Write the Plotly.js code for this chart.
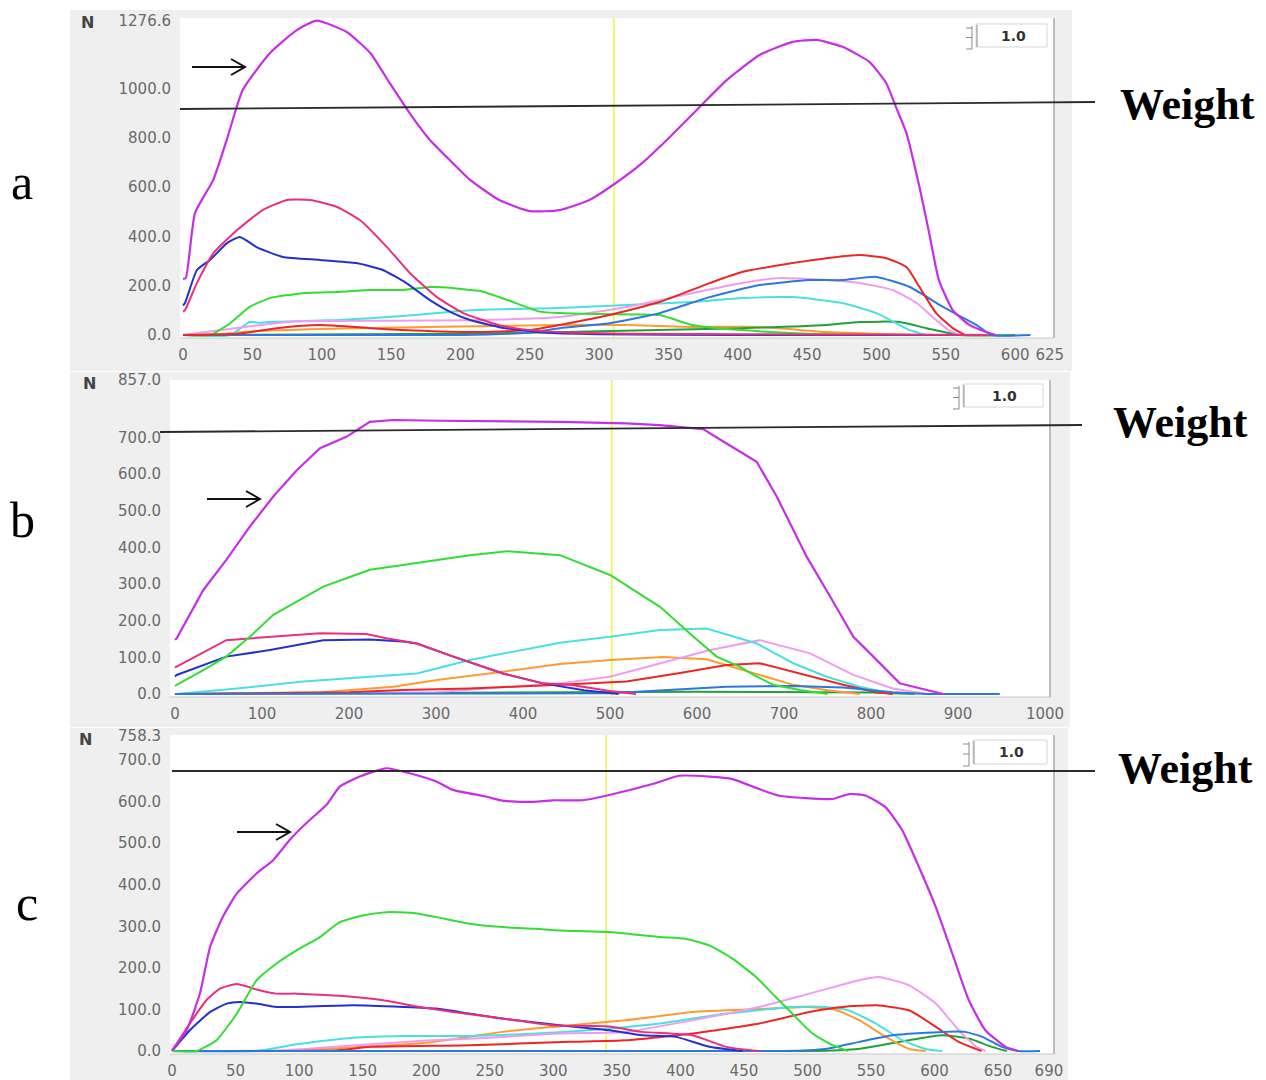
<!DOCTYPE html>
<html>
<head>
<meta charset="utf-8">
<script src="https://cdn.plot.ly/plotly-3.0.1.min.js"></script>
<style>html,body{margin:0;padding:0;background:#fff;} #chart{width:1266px;height:1080px;}</style>
</head>
<body>
<div id="chart"></div>
<script>
// ---------- Panel a ----------
const aMagentaX = [0,2,8.6,21.8,31.5,43,62.7,82,96.5,118,135,149,163.5,178,194.5,207,228,250,271.6,293,310,331,351,372.5,392,415.7,439.5,456.8,475.5,494.9,507,514,521.6,531,538,545,555,567,579,586];
const aMagentaY = [228,231,495,630,792,995,1145,1238,1276,1230,1145,1023,900,792,698,630,548,503,507,548,609,698,804,926,1035,1137,1190,1198,1170,1109,1023,926,820,601,414,223,101,41,12,0];
const aCrimsonX = [0,1.4,10,22,39,57.6,75,91.5,111,127.5,147,163.5,183,202,228,250,280,320,400,500,580];
const aCrimsonY = [95,101,211,333,426,508,548,548,520,467,357,252,154,89,40,20,10,5,3,2,0];
const aBlueX = [0,1.4,10,19.5,31.7,41,53,72,98.7,125,144,161,178,194.5,207,230,260,300,400,500,560];
const aBlueY = [120,130,264,305,373,398,357,317,305,292,264,211,142,89,61,30,10,3,0,0,0];
const aGreenX = [0,19.5,34,48,62.7,86.5,111,135,158.5,178,194.5,207,214,235,257,271.6,300,343.6,367,403,450,500];
const aGreenY = [0,0,48,114,150,170,175,183,183,195,191,183,180,140,95,89,85,81,41,20,5,0];
const aDarkGreenX = [0,200,300,403,464,487.7,516.6,536,560,600];
const aDarkGreenY = [0,5,15,28,41,53,53,28,0,0];
const aCyanX = [0,34,48,55,62.7,111,158.5,207,271.6,320,367,403,439.5,475.5,500,524,536];
const aCyanY = [0,0,53,50,53,61,77,101,110,122,134,150,154,130,89,20,0];
const aRedX = [0,40,67.7,98.7,135,158.5,207,250,271.6,307.6,343.6,379.7,403,439.5,464,487.7,507,521.6,531,543,555,564];
const aRedY = [0,5,28,41,28,20,12,20,41,81,134,211,256,292,312,325,312,276,195,89,28,0];
const aVioletX = [0,40,80,150,207,271.6,320,367,403,428,464,487.7,511.5,529,543,552,560];
const aVioletY = [0,30,55,58,60,73,114,170,211,231,223,211,183,130,61,20,0];
const aMidBlueX = [0,200,250,271.6,307.6,343.6,379.7,415.7,451.7,475.5,500,524,548,572,583,611];
const aMidBlueY = [0,0,10,28,48,89,154,203,223,223,236,195,114,41,0,0];
const aOrangeX = [0,30,50,100,150,200,271.6,320,367,415.7,464,500,530];
const aOrangeY = [0,5,15,25,30,35,41,41,33,33,12,5,0];

// ---------- Panel b ----------
const bMagentaX = [0,2,32.6,59,86,113,140,166.7,197,224,251,278,304.6,442.5,519,557,607,634,668.6,691.6,726,753,779.7,802.6,833,864,883];
const bMagentaY = [148,152,284,366,457,539,611,671,702,743,748,748,746,743,739,734,723,684,634,539,375,266,156,102,29,11,0];
const bGreenX = [0,2,32.6,59,86,113,140,170.5,197,224,262,301,339,382,416,442.5,500,557.5,596,622.6,649,665,687.7,718,750];
const bGreenY = [22,25,65,102,156,216,252,293,316,339,352,366,379,390,384,379,325,238,156,102,75,52,25,11,0];
const bCrimsonX = [0,2,59,109,166.7,220,243,278,320,377,423,454,500,530];
const bCrimsonY = [72,75,147,156,166,164,152,138,102,56,29,25,8,0];
const bBlueX = [0,2,59,109,170.5,224,262,278,320,377,423,470,510];
const bBlueY = [48,52,102,120,147,149,143,138,102,56,29,10,0];
const bCyanX = [0,2,71,147.5,224,278,339,396.5,442.5,500,557.5,611,668.6,710.7,749,787,825];
const bCyanY = [0,0,15,34,47,56,93,120,140,156,175,179,138,84,47,20,0];
const bOrangeX = [0,170,251,301,377,442.5,500,561,611,672,710.6,750,787];
const bOrangeY = [0,5,20,38,61,82,93,101,95,52,25,10,0];
const bVioletX = [0,300,416,442.5,500,557.5,615,672.4,730,779.7,825,864];
const bVioletY = [0,5,25,29,47,84,120,147,111,52,15,0];
const bRedX = [0,200,262,339,442.5,519,577,634,672,710.6,768,806,825];
const bRedY = [0,5,11,15,25,34,56,79,84,61,25,5,0];
const bMidBlueX = [0,500,634,710.6,768,825,864,948];
const bMidBlueY = [0,2,20,22,18,5,0,0];
const bDarkGreenX = [0,400,600,800,850];
const bDarkGreenY = [0,5,6,4,0];

// ---------- Panel c ----------
const cMagentaX = [0,11.5,22,30,40,51,66.5,79.6,92.7,108.5,121.6,132,147.7,168.7,187,208,221,247,260,281,299.6,323,341.6,378,399,422.8,441,462,477.8,519.7,532.8,546,561.6,574.7,587.8,601,614,627,640,656,666];
const cMagentaY = [2,50,139,251,323,379,427,459,508,556,592,636,660,680,668,648,628,612,602,599,603,603,614,642,662,660,654,630,614,606,618,614,586,530,442,346,234,122,50,10,0];
const cGreenX = [0,19.4,35,51,66.5,82,98,116.4,132,150,168.7,189.6,208,234,260,286.6,305,344,383.5,404,422.8,441,459.5,475,488,504,519.7,532];
const cGreenY = [0,0,26,90,170,210,242,274,310,326,334,332,322,306,298,294,290,286,274,270,254,222,178,130,90,42,14,0];
const cCrimsonX = [0,14,27,37.7,51,66.5,82,98,134.6,166,195,221,260,299.6,344,370,409.6,436,462];
const cCrimsonY = [0,66,122,150,161,148,138,138,132,122,106,94,78,62,59,46,38,10,0];
const cBlueX = [0,14,30,43,53.5,66.5,82,98,142.7,182,208,234,260,305,344,370,396.6,422.8,449];
const cBlueY = [0,50,94,114,118,114,106,106,110,106,102,90,78,62,50,38,34,10,0];
const cVioletX = [0,80,150,200,250,305,357,409.6,462,501.6,540.7,556,580,601,619,633,640];
const cVioletY = [0,0,15,25,32,42,46,74,106,138,170,178,158,114,50,10,0];
const cOrangeX = [0,100,150,200,260,299.6,357,409.6,462,501.6,523,540.7,561.6,580,593];
const cOrangeY = [0,2,10,20,46,58,74,94,101,106,98,74,34,5,0];
const cCyanX = [0,66,98,142.7,182,234,286.6,320,383.5,436,488,514,532,554,574.7,593,606];
const cCyanY = [0,0,16,32,36,36,42,48,66,90,106,106,98,66,26,5,0];
const cRedX = [0,130,156,234,313,357,409.6,462,501.6,527.5,554,580,601,619,637];
const cRedY = [0,2,10,14,22,26,42,66,94,106,110,98,58,22,0];
const cMidBlueX = [0,480,514,540.7,567,606,624,637.6,653,666,683];
const cMidBlueY = [0,0,5,22,38,46,46,34,10,0,0];
const cDarkGreenX = [0,500,540,580,606,627,645,657];
const cDarkGreenY = [0,0,5,26,38,30,10,0];

// axes ticks
const aXTicks = [0,50,100,150,200,250,300,350,400,450,500,550,600,625];
const aYTicks = [0,200,400,600,800,1000,1276.6];
const bXTicks = [0,100,200,300,400,500,600,700,800,900,1000];
const bYTicks = [0,100,200,300,400,500,600,700,857];
const cXTicks = [0,50,100,150,200,250,300,350,400,450,500,550,600,650,690];
const cYTicks = [0,100,200,300,400,500,600,700,758.3];
const cursorX = {a: 310.6, b: 502, c: 341.6};
const panelLetters = ['a','b','c'];

const W = 1266, H = 1080;
const PX = v => v / W;
const PY = v => 1 - v / H;

const COL = {
  magenta:'#c72ee6', crimson:'#ea2f7c', blue:'#2630cc', green:'#33dd33',
  darkgreen:'#22a03a', cyan:'#48e0e0', red:'#ee2525', violet:'#ef9cef',
  midblue:'#2a78e0', orange:'#ff9a30'
};

function tr(x, y, c, ax, w) {
  const smooth = (ax !== '2');
  return {x: x, y: y, type:'scatter', mode:'lines', xaxis:'x'+ax, yaxis:'y'+ax,
          line:{color:COL[c], width:w||2, shape: smooth ? 'spline' : 'linear', smoothing:0.5},
          hoverinfo:'skip', showlegend:false};
}

const traces = [
  tr(aOrangeX,aOrangeY,'orange',''), tr(aDarkGreenX,aDarkGreenY,'darkgreen',''),
  tr(aCyanX,aCyanY,'cyan',''), tr(aVioletX,aVioletY,'violet',''),
  tr(aGreenX,aGreenY,'green',''), tr(aMidBlueX,aMidBlueY,'midblue',''),
  tr(aRedX,aRedY,'red',''), tr(aBlueX,aBlueY,'blue',''),
  tr(aCrimsonX,aCrimsonY,'crimson',''), tr(aMagentaX,aMagentaY,'magenta','',2.2),

  tr(bDarkGreenX,bDarkGreenY,'darkgreen','2'), tr(bOrangeX,bOrangeY,'orange','2'),
  tr(bVioletX,bVioletY,'violet','2'), tr(bCyanX,bCyanY,'cyan','2'),
  tr(bRedX,bRedY,'red','2'), tr(bMidBlueX,bMidBlueY,'midblue','2'),
  tr(bBlueX,bBlueY,'blue','2'), tr(bCrimsonX,bCrimsonY,'crimson','2'),
  tr(bGreenX,bGreenY,'green','2'), tr(bMagentaX,bMagentaY,'magenta','2',2.2),

  tr(cDarkGreenX,cDarkGreenY,'darkgreen','3'), tr(cOrangeX,cOrangeY,'orange','3'),
  tr(cCyanX,cCyanY,'cyan','3'), tr(cVioletX,cVioletY,'violet','3'),
  tr(cRedX,cRedY,'red','3'), tr(cMidBlueX,cMidBlueY,'midblue','3'),
  tr(cBlueX,cBlueY,'blue','3'), tr(cCrimsonX,cCrimsonY,'crimson','3'),
  tr(cGreenX,cGreenY,'green','3'), tr(cMagentaX,cMagentaY,'magenta','3',2.2)
];

const tickfont = {family:'DejaVu Sans', size:15, color:'#6a6a6a'};
function xa(dom, rng, tv, anchor) {
  return {domain:[PX(dom[0]),PX(dom[1])], range:rng, tickvals:tv, ticktext:tv.map(String),
    showgrid:false, zeroline:false, showline:false, ticks:'', tickfont:tickfont,
    ticklabelstandoff:6, anchor:anchor, fixedrange:true};
}
function ya(dom, rng, tv, anchor) {
  return {domain:[PY(dom[1]),PY(dom[0])], range:rng, tickvals:tv, ticktext:tv.map(v=>v.toFixed(1)),
    showgrid:false, zeroline:false, showline:false, ticks:'', tickfont:tickfont,
    ticklabelstandoff:8, anchor:anchor, fixedrange:true};
}

// plot-area pixel boxes [x0,x1,y0,y1]
const boxA = [180,1054,18,338], boxB = [170,1050,380,697], boxC = [170,1054,735,1054];

const shapes = [];
function rectP(x0,x1,y0,y1,fill,line) {
  shapes.push({type:'rect', xref:'paper', yref:'paper', x0:PX(x0), x1:PX(x1), y0:PY(y1), y1:PY(y0),
    fillcolor:fill, line: line || {width:0}, layer:'below'});
}
function lineP(x0,y0,x1,y1,color,w,layer) {
  shapes.push({type:'line', xref:'paper', yref:'paper', x0:PX(x0), y0:PY(y0), x1:PX(x1), y1:PY(y1),
    line:{color:color, width:w}, layer:layer||'above'});
}
// gray panels
rectP(70,1072,10,371,'#efefef');
rectP(70,1070,372,727,'#efefef');
rectP(70,1068,728,1080,'#efefef');
// white plot areas
[boxA,boxB,boxC].forEach(b => rectP(b[0],b[1],b[2],b[3],'#ffffff'));
// borders (right + bottom)
[boxA,boxB,boxC].forEach(b => {
  lineP(b[1],b[2],b[1],b[3],'#a8a8a8',1.5,'below');
  lineP(b[0],b[3],b[1],b[3],'#c8c8c8',1,'below');
});
// yellow cursor lines
[['',cursorX.a],['2',cursorX.b],['3',cursorX.c]].forEach(p => {
  shapes.push({type:'line', xref:'x'+p[0], yref:(p[0]?'y'+p[0]:'y')+' domain', x0:p[1], x1:p[1], y0:0, y1:1,
    line:{color:'#f2f250', width:1.6}, layer:'below'});
});
// weight lines
lineP(180,109,1095,102,'#2a2a2a',1.8);
lineP(160,432,1082,425,'#2a2a2a',1.8);
lineP(172,771,1095,771,'#2a2a2a',1.8);
// arrows
function arrow(x0,x1,y) {
  lineP(x0,y,x1,y,'#111',2);
  shapes.push({type:'path', xref:'paper', yref:'paper',
    path:`M ${PX(x1-14)} ${PY(y-8)} L ${PX(x1)} ${PY(y)} L ${PX(x1-14)} ${PY(y+8)}`,
    line:{color:'#111', width:2}});
}
arrow(192,245,67);
arrow(207,260,499);
arrow(237,290,832);
// "1.0" boxes with spinner
function scaleBox(x0,x1,y0,y1) {
  rectP(x0,x1,y0,y1,'#ffffff',{color:'#d6d6d6', width:1});
  lineP(x0+1,y0+1,x0+1,y1,'#8a8a8a',1);
  const sx = x0-4;
  lineP(sx,y0+2,sx,y1+2,'#8a8a8a',1);
  lineP(sx-6,y0+4,sx,y0+4,'#8a8a8a',1);
  lineP(sx-6,(y0+y1)/2+2,sx,(y0+y1)/2+2,'#8a8a8a',1);
  lineP(sx-6,y1+2,sx,y1+2,'#8a8a8a',1);
}
scaleBox(976,1047,24,47);
scaleBox(963,1043,384,407);
scaleBox(973,1047,740,764);

const annotations = [];
function txt(x,y,t,font,anchor) {
  annotations.push({xref:'paper', yref:'paper', x:PX(x), y:PY(y), text:t, showarrow:false,
    xanchor:anchor||'center', yanchor:'middle', font:font});
}
const oneFont = {family:'DejaVu Sans', size:14, color:'#333'};
txt(1013,36,'<b>1.0</b>',oneFont); txt(1004,396,'<b>1.0</b>',oneFont); txt(1011,752,'<b>1.0</b>',oneFont);
const nFont = {family:'DejaVu Sans', size:16, color:'#444'};
txt(87,23,'<b>N</b>',nFont); txt(89,383,'<b>N</b>',nFont); txt(85,739,'<b>N</b>',nFont);
const wFont = {family:'Liberation Serif', size:44, color:'#000'};
txt(1187,104,'<b>Weight</b>',wFont); txt(1180,423,'<b>Weight</b>',wFont); txt(1185,768,'<b>Weight</b>',wFont);
const lFont = {family:'Liberation Serif', size:50, color:'#000'};
txt(22,182,panelLetters[0],lFont); txt(22,520,panelLetters[1],lFont); txt(27,903,panelLetters[2],lFont);

const layout = {
  width:W, height:H, margin:{l:0,r:0,t:0,b:0},
  paper_bgcolor:'#ffffff', plot_bgcolor:'rgba(0,0,0,0)', showlegend:false,
  xaxis:  xa([boxA[0],boxA[1]], [-2.2,628], aXTicks, 'y'),
  yaxis:  ya([boxA[2],boxA[3]], [-12,1287], aYTicks, 'x'),
  xaxis2: xa([boxB[0],boxB[1]], [-5.7,1005.7], bXTicks, 'y2'),
  yaxis2: ya([boxB[2],boxB[3]], [-8.2,857.2], bYTicks, 'x2'),
  xaxis3: xa([boxC[0],boxC[1]], [-1.6,694], cXTicks, 'y3'),
  yaxis3: ya([boxC[2],boxC[3]], [-7.2,760], cYTicks, 'x3'),
  shapes:shapes, annotations:annotations
};
Plotly.newPlot('chart', traces, layout, {displayModeBar:false, staticPlot:true});
</script>
</body>
</html>
